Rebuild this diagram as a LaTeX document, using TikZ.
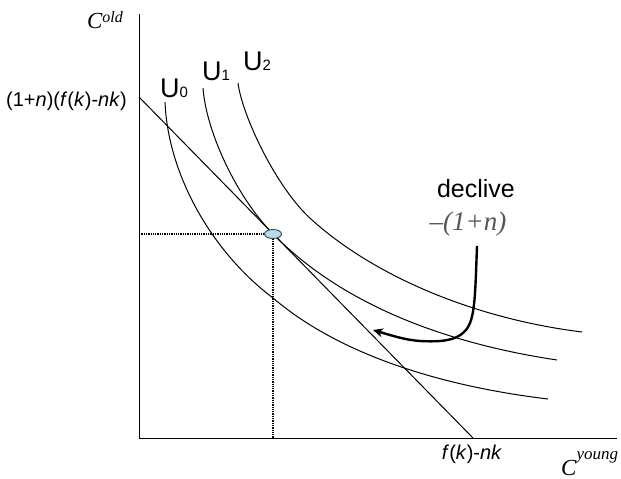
\documentclass[tikz,border=0pt]{standalone}
\usepackage{fontspec}
\setmainfont{Liberation Sans}
\newfontfamily\timesfont{Liberation Serif}
\usepackage{tikz}
\usetikzlibrary{arrows.meta, shapes.geometric}
\definecolor{tanfill}{HTML}{B7DEE8}
\definecolor{tanline}{HTML}{2F4F5A}
\definecolor{slopegray}{HTML}{555555}
\newcommand{\usub}[1]{{\fontsize{15}{15}\selectfont #1}}
\tikzset{
  axis/.style     = {draw=black, line width=1pt},
  budget/.style   = {draw=black, line width=1pt},
  indiff/.style   = {draw=black, line width=1pt},
  guide/.style    = {draw=black, line width=1.3pt, densely dotted},
  tangency/.style = {ellipse, draw=tanline, fill=tanfill, line width=0.9pt,
                     minimum width=17pt, minimum height=9pt, inner sep=0pt},
  ulabel/.style   = {font=\fontsize{27}{27}\selectfont, inner sep=0pt},
  axlabel/.style  = {font=\fontsize{20}{20}\selectfont, inner sep=0pt},
  varlabel/.style = {font=\timesfont\itshape\fontsize{23}{23}\selectfont, inner sep=0pt},
  slopearr/.style = {-{Stealth[length=10pt,width=9pt]}, line width=2.4pt},
}

\begin{document}
\begin{tikzpicture}[x=1pt, y=-1pt]
  \useasboundingbox (0,0) rectangle (621,479);

  % Axes
  \coordinate (origin) at (139,438);
  \coordinate (ytop) at (139,14);
  \coordinate (xend) at (617,438);
  \draw[axis] (ytop) -- (origin) -- (xend);
  \node[varlabel, anchor=base east] (cold) at (123,28)
       {C\raisebox{6pt}{\fontsize{16}{16}\selectfont old}};
  \node[varlabel, anchor=base west] (cyoung) at (561,475)
       {C\raisebox{16pt}{\fontsize{17}{17}\selectfont young}};

  % Budget line
  \coordinate (yint) at (139,97);
  \coordinate (xint) at (473,438);
  \draw[budget] (yint) -- (xint);
  \node[axlabel, anchor=base east] (ylab) at (127,106) {(1+\textit{n})(\textit{f}(\textit{k})-\textit{nk})};
  \node[axlabel, anchor=base] (xlab) at (472,459) {\textit{f}(\textit{k})-\textit{nk}};

  % Tangency point
  \coordinate (T) at (273,234);

  % Indifference curves
  \draw[indiff] (165,102) .. controls (168,175) and (212,252) .. (273,298)
                          .. controls (343,357.5) and (448,387) .. (548,399);
  \draw[indiff] (203,88) .. controls (206,130) and (235,195) .. (T)
                         .. controls (343,305.4) and (447,343.5) .. (557,360);
  \draw[indiff] (238,83) .. controls (242,115) and (276,188) .. (312,220)
                         .. controls (372,274) and (470,318) .. (582,332);
  \node[ulabel, anchor=base west] (u0) at (160,97) {U\usub{0}};
  \node[ulabel, anchor=base west] (u1) at (202,80) {U\usub{1}};
  \node[ulabel, anchor=base west] (u2) at (243,70) {U\usub{2}};

  % Guides to the axes
  \draw[guide] (origin |- T) -- (T);
  \draw[guide] (T) -- (origin -| T);
  \node[tangency] (opt) at (T) {};

  % Slope note
  \node[font=\fontsize{25}{25}\selectfont, inner sep=0pt, anchor=base] (decl) at (476,197) {declive};
  \node[font=\timesfont\itshape\fontsize{27}{27}\selectfont, text=slopegray, anchor=base,
        inner sep=0pt] (slope) at (468,230) {\textendash(1+n)};
  \coordinate (tip) at (373,330);
  \draw[slopearr] ([xshift=9pt, yshift=-10pt]slope.south) .. controls (475,300) and (475,322) .. (464,332)
      .. controls (455,341) and (440,342) .. (420,341) .. controls (405,340) and (390,335) .. (tip);
\end{tikzpicture}
\end{document}
